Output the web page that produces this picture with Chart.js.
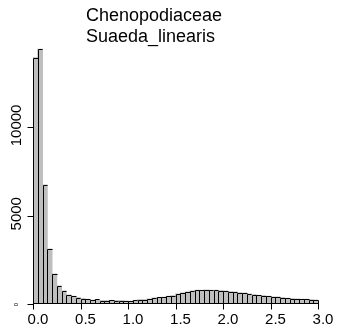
<!DOCTYPE html>
<html>
<head>
<meta charset="utf-8">
<script src="https://cdn.jsdelivr.net/npm/chart.js@4"></script>
<style>
  html, body { margin: 0; padding: 0; background: #fff; }
  canvas { display: block; }
</style>
</head>
<body>
<canvas id="histChart" width="337" height="335"></canvas>
<script>
// Title lines
const titleLines = ['Chenopodiaceae', 'Suaeda_linearis'];

// Histogram: one count per bin of width 0.05, from 0.0 to 3.0
const binWidth = 0.05;
const counts = [
  13950, 14430, 6740, 3110, 1700, 1020, 740, 510, 435, 360,
  305, 265, 215, 255, 190, 190, 205, 190, 190, 170,
  150, 205, 245, 245, 285, 340, 375, 380, 435, 470,
  565, 625, 680, 735, 775, 775, 790, 775, 775, 755,
  735, 700, 680, 625, 620, 565, 530, 490, 470, 435,
  395, 395, 360, 320, 300, 285, 265, 265, 245, 225
];

// Axis ticks
const xTicks = [0, 0.5, 1, 1.5, 2, 2.5, 3];
const xTickLabels = ['0.0', '0.5', '1.0', '1.5', '2.0', '2.5', '3.0'];
const yTicks = [0, 5000, 10000];
const yTickLabels = ['0', '5000', '10000'];

const FONT = "'Liberation Sans', Arial, sans-serif";

// crisp R-like outlines on the bars the library laid out
const barOutlines = {
  id: 'barOutlines',
  afterDatasetsDraw(chart) {
    const { ctx } = chart;
    const bars = chart.getDatasetMeta(0).data;
    ctx.save();
    ctx.strokeStyle = '#000';
    ctx.lineWidth = 1;
    ctx.beginPath();
    bars.forEach((bar, i) => {
      const p = bar.getProps(['x', 'y', 'width', 'base'], true);
      const l = Math.round(p.x - p.width / 2) + 0.5;
      const r = Math.round(p.x + p.width / 2) + 0.5;
      const t = Math.round(p.y) + 0.5;
      const b = Math.round(p.base);
      ctx.moveTo(l, b);
      ctx.lineTo(l, t);
      ctx.lineTo(r, t);
      if (i === bars.length - 1) ctx.lineTo(r, b);
    });
    ctx.stroke();
    ctx.restore();
  }
};

// R-style axes and title, placed through the chart's own scales
const rAxes = {
  id: 'rAxes',
  afterDraw(chart) {
    const { ctx, scales } = chart;
    const xs = scales.x, ys = scales.y;
    const base = Math.round(ys.getPixelForValue(0)) - 0.5;
    ctx.save();
    ctx.strokeStyle = '#000';
    ctx.fillStyle = '#000';
    ctx.lineWidth = 1;

    // x axis
    const x0 = Math.round(xs.getPixelForValue(xTicks[0])) + 0.5;
    const x1 = Math.round(xs.getPixelForValue(xTicks[xTicks.length - 1])) + 0.5;
    ctx.beginPath();
    ctx.moveTo(x0, base);
    ctx.lineTo(x1, base);
    xTicks.forEach(v => {
      const px = Math.round(xs.getPixelForValue(v)) + 0.5;
      ctx.moveTo(px, base);
      ctx.lineTo(px, base + 6);
    });
    ctx.stroke();
    ctx.font = '15px ' + FONT;
    ctx.textAlign = 'center';
    ctx.textBaseline = 'alphabetic';
    xTicks.forEach((v, i) => {
      ctx.fillText(xTickLabels[i], xs.getPixelForValue(v) + 5, 324);
    });

    // y axis
    const yTop = Math.round(ys.getPixelForValue(yTicks[yTicks.length - 1])) + 0.5;
    ctx.beginPath();
    ctx.moveTo(x0, base);
    ctx.lineTo(x0, yTop);
    yTicks.forEach(v => {
      const py = Math.round(ys.getPixelForValue(v)) + 0.5;
      ctx.moveTo(x0, py);
      ctx.lineTo(x0 - 6, py);
    });
    ctx.stroke();
    yTicks.forEach((v, i) => {
      const py = ys.getPixelForValue(v);
      const small = v === 0;
      ctx.save();
      ctx.translate(small ? 17.5 : 20.5, small ? py + 0.5 : py - 2);
      ctx.rotate(-Math.PI / 2);
      ctx.font = (small ? '6px ' : '15px ') + FONT;
      ctx.fillText(yTickLabels[i], 0, 0);
      ctx.restore();
    });

    // title
    ctx.font = '18px ' + FONT;
    ctx.textAlign = 'left';
    ctx.fillText(titleLines[0], 86, 20.5);
    ctx.fillText(titleLines[1], 86, 42);
    ctx.restore();
  }
};

const ctx = document.getElementById('histChart').getContext('2d');
new Chart(ctx, {
  type: 'bar',
  data: {
    datasets: [{
      data: counts.map((c, i) => ({ x: (i + 0.5) * binWidth, y: c })),
      backgroundColor: '#bebebe',
      borderWidth: 0,
      inflateAmount: 0.5,
      barPercentage: 1,
      categoryPercentage: 1
    }]
  },
  options: {
    responsive: false,
    animation: false,
    devicePixelRatio: 1,
    layout: { padding: { left: 33, right: 19, top: 48, bottom: 31 } },
    plugins: {
      legend: { display: false },
      tooltip: { enabled: false },
      title: { display: false }
    },
    scales: {
      x: { type: 'linear', min: 0, max: 3, offset: false, display: false },
      y: { min: 0, max: 14500, display: false }
    }
  },
  plugins: [barOutlines, rAxes]
});
</script>
</body>
</html>
